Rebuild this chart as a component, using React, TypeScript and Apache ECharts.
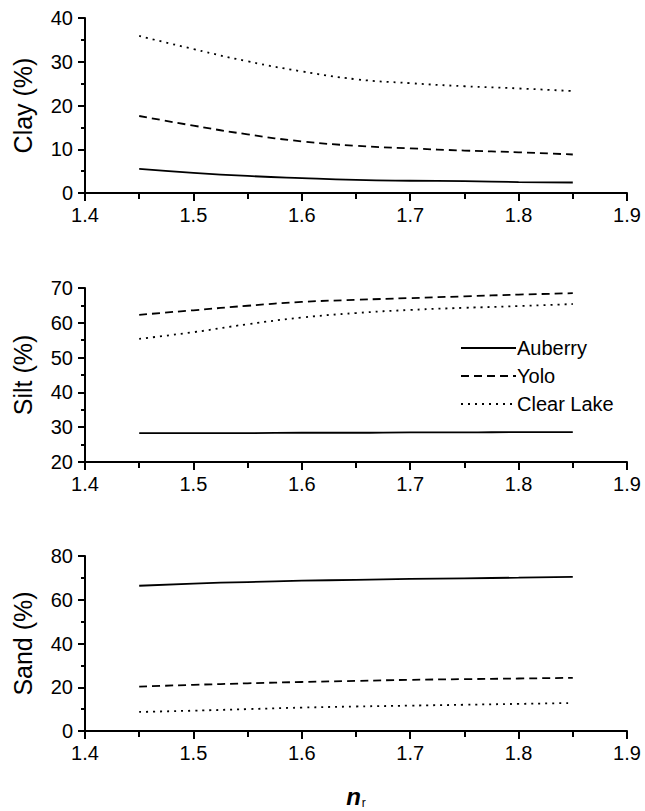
import React, { useEffect, useRef } from "react";
import * as echarts from "echarts";

const nr = [1.45, 1.5, 1.55, 1.6, 1.65, 1.7, 1.75, 1.8, 1.85];
const soils = ["Auberry", "Yolo", "Clear Lake"];

const clayAuberry = [5.5, 4.6, 3.9, 3.4, 3.0, 2.8, 2.7, 2.5, 2.4];
const clayYolo = [17.6, 15.4, 13.4, 11.8, 10.8, 10.2, 9.7, 9.3, 8.8];
const clayClearLake = [35.9, 32.9, 30.1, 27.8, 26.0, 25.1, 24.4, 23.9, 23.3];

const siltAuberry = [28.3, 28.3, 28.3, 28.4, 28.4, 28.5, 28.5, 28.6, 28.6];
const siltYolo = [62.3, 63.6, 64.9, 66.0, 66.6, 67.1, 67.6, 68.1, 68.5];
const siltClearLake = [55.4, 57.3, 59.6, 61.5, 62.8, 63.7, 64.3, 64.8, 65.4];

const sandAuberry = [66.4, 67.4, 68.1, 68.7, 69.1, 69.5, 69.8, 70.1, 70.5];
const sandYolo = [20.3, 21.1, 21.8, 22.4, 22.9, 23.4, 23.7, 24.0, 24.3];
const sandClearLake = [8.7, 9.3, 10.0, 10.7, 11.2, 11.6, 12.0, 12.4, 12.8];

const panelNames = ["Clay (%)", "Silt (%)", "Sand (%)"];
const panelMin = [0, 20, 0];
const panelMax = [40, 70, 80];
const panelInterval = [10, 10, 20];
const xTicksMin = 1.4;
const xTicksMax = 1.9;

const panelData = [
  [clayAuberry, clayYolo, clayClearLake],
  [siltAuberry, siltYolo, siltClearLake],
  [sandAuberry, sandYolo, sandClearLake],
];

const lineTypes: any[] = ["solid", [8, 5], [2, 5]];

export default function App() {
  const ref = useRef<HTMLDivElement>(null);
  useEffect(() => {
    document.body.style.margin = "0";
    if (!ref.current) return;
    const chart = echarts.init(ref.current, null, { renderer: "svg" });
    const font = "Liberation Sans, Arial, sans-serif";
    const tops = [18, 288, 556];
    const heights = [175, 174, 175];
    const grids = tops.map((t, i) => ({ left: 85, width: 542, top: t, height: heights[i] }));
    const axisLine = { show: true, lineStyle: { color: "#000", width: 2 } };
    const xAxes = grids.map((_, i) => ({
      type: "value",
      gridIndex: i,
      min: xTicksMin,
      max: xTicksMax,
      interval: 0.1,
      axisLine,
      axisTick: { show: true, length: 8, lineStyle: { color: "#000", width: 2 } },
      minorTick: { show: true, splitNumber: 2, length: 6, lineStyle: { color: "#000", width: 2 } },
      splitLine: { show: false },
      axisLabel: {
        color: "#000",
        fontSize: 20,
        fontFamily: font,
        margin: 12,
        formatter: (v: number) => v.toFixed(1),
      },
      ...(i === 2
        ? {
            name: "{n|n}{r|r}",
            nameLocation: "middle",
            nameGap: 52,
            nameTextStyle: {
              rich: {
                n: { fontSize: 24, fontStyle: "italic", fontWeight: "bold", color: "#000", fontFamily: font },
                r: { fontSize: 12, color: "#000", fontFamily: font, padding: [14, 0, 0, 1] },
              },
            },
          }
        : {}),
    }));
    const yAxes = grids.map((_, i) => ({
      type: "value",
      gridIndex: i,
      min: panelMin[i],
      max: panelMax[i],
      interval: panelInterval[i],
      axisLine,
      axisTick: { show: true, length: 7, lineStyle: { color: "#000", width: 2 } },
      minorTick: { show: true, splitNumber: 2, length: 4, lineStyle: { color: "#000", width: 2 } },
      splitLine: { show: false },
      axisLabel: { color: "#000", fontSize: 20, fontFamily: font, margin: 12 },
      name: panelNames[i],
      nameLocation: "middle",
      nameGap: 50,
      nameTextStyle: { color: "#000", fontSize: 25, fontFamily: font },
    }));
    const series: any[] = [];
    panelData.forEach((group, gi) => {
      group.forEach((vals, si) => {
        series.push({
          type: "line",
          name: soils[si],
          xAxisIndex: gi,
          yAxisIndex: gi,
          data: nr.map((x, k) => [x, vals[k]]),
          smooth: true,
          symbol: "none",
          lineStyle: { color: "#000", width: 1.8, type: lineTypes[si] },
          itemStyle: { color: "#000" },
        });
      });
    });
    chart.setOption({
      animation: false,
      backgroundColor: "#fff",
      grid: grids,
      xAxis: xAxes,
      yAxis: yAxes,
      legend: {
        data: soils,
        orient: "vertical",
        left: 455,
        top: 333,
        itemWidth: 55,
        itemHeight: 12,
        itemGap: 8,
        selectedMode: false,
        itemStyle: { opacity: 0 },
        textStyle: { color: "#000", fontSize: 20, fontFamily: font, padding: [0, 0, 0, -4] },
      },
      series,
    });
    return () => chart.dispose();
  }, []);
  return <div ref={ref} style={{ width: 645, height: 811 }} />;
}
